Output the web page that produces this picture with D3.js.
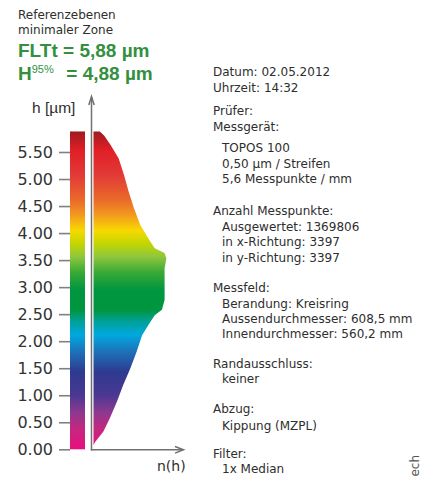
<!DOCTYPE html>
<html>
<head>
<meta charset="utf-8">
<script src="https://cdn.jsdelivr.net/npm/d3@7"></script>
<style>
  body { margin: 0; background: #fff; }
  svg { display: block; }
</style>
</head>
<body>
<script>
// height levels (µm) and relative frequency n(h)
const hLevels = [0.08, 0.14, 0.33, 0.57, 0.88, 1.19, 1.50, 1.81, 2.11, 2.30, 2.48, 2.58, 2.76,
  3.04, 3.35, 3.53, 3.63, 3.72, 3.90, 4.15, 4.46, 4.77, 5.07, 5.38, 5.63, 5.80, 5.88];
const nValues = [0, 2, 11, 18, 26, 33, 41, 48, 54, 61, 68, 76, 79,
  79, 79, 81, 79, 68, 61, 52, 45, 39, 34, 28, 19, 12, 7];

const tickValues = [0, 0.5, 1, 1.5, 2, 2.5, 3, 3.5, 4, 4.5, 5, 5.5];

// colour scale of the height bar
const stopHeights = [0.04, 0.39, 0.69, 1.00, 1.43, 1.83, 2.11, 2.36, 2.58, 2.95, 3.28, 3.55, 3.81, 4.05, 4.33, 4.61, 5.07, 5.54, 5.88];
const stopColors = ['#e4117e', '#c3287f', '#8b3990', '#4a3892', '#2e3a8f', '#1c75bc', '#00a8df', '#00a19a', '#00953f',
  '#009640', '#3aaa35', '#8cc63f', '#c4d600', '#f8d800', '#f39a1e', '#ea6a2a', '#e23a36', '#e01f26', '#9e1b20'];

const flt = 5.88;
const headerLines = ['Referenzebenen', 'minimaler Zone'];
const fltText = 'FLTt = 5,88 µm';
const h95Text = ['H', '95%', ' = 4,88 µm'];

const infoLines = [
  ['Datum: 02.05.2012', 0], ['Uhrzeit: 14:32', 0], ['Prüfer:', 0],
  ['Messgerät:', 0], ['TOPOS 100', 1], ['0,50 µm / Streifen', 1], ['5,6 Messpunkte / mm', 1],
  ['Anzahl Messpunkte:', 0], ['Ausgewertet: 1369806', 1], ['in x-Richtung: 3397', 1], ['in y-Richtung: 3397', 1],
  ['Messfeld:', 0], ['Berandung: Kreisring', 1], ['Aussendurchmesser: 608,5 mm', 1], ['Innendurchmesser: 560,2 mm', 1],
  ['Randausschluss:', 0], ['keiner', 1],
  ['Abzug:', 0], ['Kippung (MZPL)', 1],
  ['Filter:', 0], ['1x Median', 1]
];
const infoBaselines = [76, 92, 115, 131, 152, 168, 183, 215, 231, 246, 262, 292, 308, 323, 338, 368, 383, 413, 430, 458, 473];

const width = 429;
const height = 477;
const green = '#33903f';
const dark = '#2e2e2e';
const axisGrey = '#707070';

const svg = d3.select('body').append('svg')
  .attr('width', width)
  .attr('height', height);

const y = d3.scaleLinear().domain([0, 5.5]).range([449.3, 152]);
const x = d3.scaleLinear().domain([0, 100]).range([93.5, 183.5]);

// gradient shared by colour bar and histogram
const grad = svg.append('defs').append('linearGradient')
  .attr('id', 'hgrad')
  .attr('gradientUnits', 'userSpaceOnUse')
  .attr('x1', 0).attr('x2', 0)
  .attr('y1', y(0)).attr('y2', y(flt));
grad.selectAll('stop')
  .data(stopHeights)
  .enter()
  .append('stop')
  .attr('offset', d => d / flt)
  .attr('stop-color', (d, i) => stopColors[i]);

// header
svg.append('g')
  .selectAll('text')
  .data(headerLines)
  .enter()
  .append('text')
  .attr('x', 18)
  .attr('y', (d, i) => 19 + i * 15)
  .style('font', '12px "DejaVu Sans"')
  .style('fill', dark)
  .text(d => d);

svg.append('text')
  .attr('x', 18).attr('y', 57)
  .style('font', 'bold 19px "Liberation Sans"')
  .style('fill', green)
  .text(fltText);

const h95 = svg.append('text')
  .attr('x', 18).attr('y', 80)
  .style('font', 'bold 19px "Liberation Sans"')
  .style('fill', green);
h95.append('tspan').text(h95Text[0]);
h95.append('tspan').attr('dy', -7).style('font-size', '11px').style('font-weight', 'normal').text(h95Text[1]);
h95.append('tspan').attr('dy', 7).attr('x', 61).text(h95Text[2]);

// colour bar
svg.append('rect')
  .attr('x', 70)
  .attr('width', 15)
  .attr('y', y(flt))
  .attr('height', y(0) - y(flt))
  .style('fill', 'url(#hgrad)');

// height axis with ticks
const axis = svg.append('g')
  .attr('transform', 'translate(70,0)')
  .call(d3.axisLeft(y).tickValues(tickValues).tickFormat(d3.format('.2f')).tickSize(11).tickPadding(6));
axis.select('.domain').remove();
axis.selectAll('line').style('stroke', '#808080').style('stroke-width', 1.6);
axis.selectAll('text')
  .style('font', '16px "DejaVu Sans"')
  .style('fill', '#333');

// histogram n(h)
const hist = hLevels.map((h, i) => ({ h: h, n: nValues[i] }));
const area = d3.area()
  .y(d => y(d.h))
  .x0(x(0))
  .x1(d => x(d.n));
svg.append('path')
  .datum(hist)
  .attr('d', area)
  .style('fill', 'url(#hgrad)');

// axes with arrows
const ax = svg.append('g')
  .style('stroke', axisGrey)
  .style('stroke-width', 1.5)
  .style('fill', 'none');
ax.append('path').attr('d', 'M91.5,450.5V97');
ax.append('path').attr('d', 'M88.8,105L91.5,96.5L94.2,105');
ax.append('path').attr('d', 'M90.8,449.8H183');
ax.append('path').attr('d', 'M175,446.5L183.5,449.8L175,453.1');

svg.append('text')
  .attr('x', 32).attr('y', 113)
  .style('font', '15.5px "Liberation Sans"')
  .style('fill', dark)
  .text('h [µm]');

svg.append('text')
  .attr('x', 157).attr('y', 471)
  .style('font', '14px "DejaVu Sans"')
  .style('fill', dark)
  .text('n(h)');

// measurement info
svg.append('g')
  .selectAll('text')
  .data(infoLines)
  .enter()
  .append('text')
  .attr('x', d => d[1] ? 222 : 213)
  .attr('y', (d, i) => infoBaselines[i])
  .style('font', '12px "DejaVu Sans"')
  .style('fill', dark)
  .text(d => d[0]);

svg.append('text')
  .attr('transform', 'translate(419,455) rotate(-90)')
  .attr('text-anchor', 'end')
  .style('font', '12px "DejaVu Sans"')
  .style('fill', '#555')
  .text('ech');
</script>
</body>
</html>
